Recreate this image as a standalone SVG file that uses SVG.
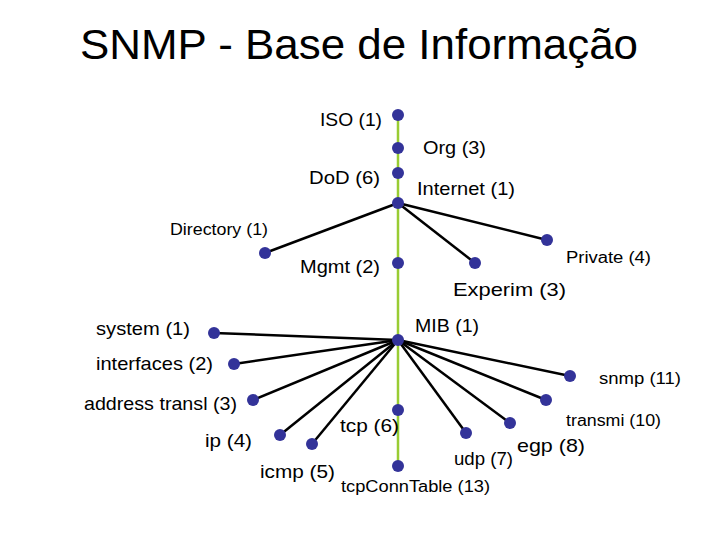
<svg xmlns="http://www.w3.org/2000/svg" width="720" height="540" viewBox="0 0 720 540">
<style>
text{font-family:"Liberation Sans",Arial,sans-serif;fill:#000;font-size:18.5px}
.s{font-size:16px}
.d{fill:#333399}
.b{stroke:#000;stroke-width:2.5}
.g{stroke:#99cc33;stroke-width:2.5}
</style>
<rect width="720" height="540" fill="#fff"/>
<text x="80" y="59" style="font-size:43px" textLength="558" lengthAdjust="spacingAndGlyphs">SNMP - Base de Informação</text>
<g id="connectors">
<line class="g" x1="398" y1="115" x2="398" y2="466"/>
<line class="b" x1="398" y1="203" x2="265" y2="253"/>
<line class="b" x1="398" y1="203" x2="475" y2="263"/>
<line class="b" x1="398" y1="203" x2="547" y2="240"/>
<g class="b">
<line x1="398" y1="340" x2="214" y2="333"/>
<line x1="398" y1="340" x2="234" y2="364"/>
<line x1="398" y1="340" x2="253" y2="400"/>
<line x1="398" y1="340" x2="280" y2="435"/>
<line x1="398" y1="340" x2="312" y2="444"/>
<line x1="398" y1="340" x2="466" y2="433"/>
<line x1="398" y1="340" x2="510" y2="423"/>
<line x1="398" y1="340" x2="546" y2="400"/>
<line x1="398" y1="340" x2="570" y2="376"/>
</g>
</g>
<g id="iso"><circle class="d" cx="398" cy="115" r="6"/><text x="320" y="126" textLength="62" lengthAdjust="spacingAndGlyphs">ISO (1)</text></g>
<g id="org"><circle class="d" cx="398" cy="148" r="6"/><text x="423" y="154" textLength="63" lengthAdjust="spacingAndGlyphs">Org (3)</text></g>
<g id="dod"><circle class="d" cx="398" cy="173" r="6"/><text x="309" y="184" textLength="71" lengthAdjust="spacingAndGlyphs">DoD (6)</text></g>
<g id="internet"><circle class="d" cx="398" cy="203" r="6"/><text x="417" y="195" textLength="98" lengthAdjust="spacingAndGlyphs">Internet (1)</text></g>
<g id="directory"><circle class="d" cx="265" cy="253" r="6"/><text class="s" x="170" y="235" textLength="98" lengthAdjust="spacingAndGlyphs">Directory (1)</text></g>
<g id="mgmt"><circle class="d" cx="398" cy="263" r="6"/><text x="300" y="273" textLength="80" lengthAdjust="spacingAndGlyphs">Mgmt (2)</text></g>
<g id="experim"><circle class="d" cx="475" cy="263" r="6"/><text x="453" y="296" textLength="113" lengthAdjust="spacingAndGlyphs">Experim (3)</text></g>
<g id="private"><circle class="d" cx="547" cy="240" r="6"/><text class="s" x="566" y="263" textLength="85" lengthAdjust="spacingAndGlyphs">Private (4)</text></g>
<g id="mib"><circle class="d" cx="398" cy="340" r="6"/><text x="415" y="332" textLength="64" lengthAdjust="spacingAndGlyphs">MIB (1)</text></g>
<g id="system"><circle class="d" cx="214" cy="333" r="6"/><text x="96" y="335" textLength="94" lengthAdjust="spacingAndGlyphs">system (1)</text></g>
<g id="interfaces"><circle class="d" cx="234" cy="364" r="6"/><text x="96" y="370" textLength="117" lengthAdjust="spacingAndGlyphs">interfaces (2)</text></g>
<g id="address"><circle class="d" cx="253" cy="400" r="6"/><text x="84" y="410" textLength="153" lengthAdjust="spacingAndGlyphs">address transl (3)</text></g>
<g id="ip"><circle class="d" cx="280" cy="435" r="6"/><text x="205" y="447" textLength="47" lengthAdjust="spacingAndGlyphs">ip (4)</text></g>
<g id="icmp"><circle class="d" cx="312" cy="444" r="6"/><text x="260" y="478" textLength="75" lengthAdjust="spacingAndGlyphs">icmp (5)</text></g>
<g id="tcp"><circle class="d" cx="398" cy="410" r="6"/><text x="340" y="432" textLength="59" lengthAdjust="spacingAndGlyphs">tcp (6)</text></g>
<g id="tcpconn"><circle class="d" cx="398" cy="466" r="6"/><text class="s" x="341" y="492" textLength="149" lengthAdjust="spacingAndGlyphs">tcpConnTable (13)</text></g>
<g id="udp"><circle class="d" cx="466" cy="433" r="6"/><text x="454" y="465" textLength="59" lengthAdjust="spacingAndGlyphs">udp (7)</text></g>
<g id="egp"><circle class="d" cx="510" cy="423" r="6"/><text x="517" y="452" textLength="68" lengthAdjust="spacingAndGlyphs">egp (8)</text></g>
<g id="transmi"><circle class="d" cx="546" cy="400" r="6"/><text class="s" x="566" y="426" textLength="95" lengthAdjust="spacingAndGlyphs">transmi (10)</text></g>
<g id="snmp"><circle class="d" cx="570" cy="376" r="6"/><text class="s" x="599" y="384" textLength="82" lengthAdjust="spacingAndGlyphs">snmp (11)</text></g>
</svg>
